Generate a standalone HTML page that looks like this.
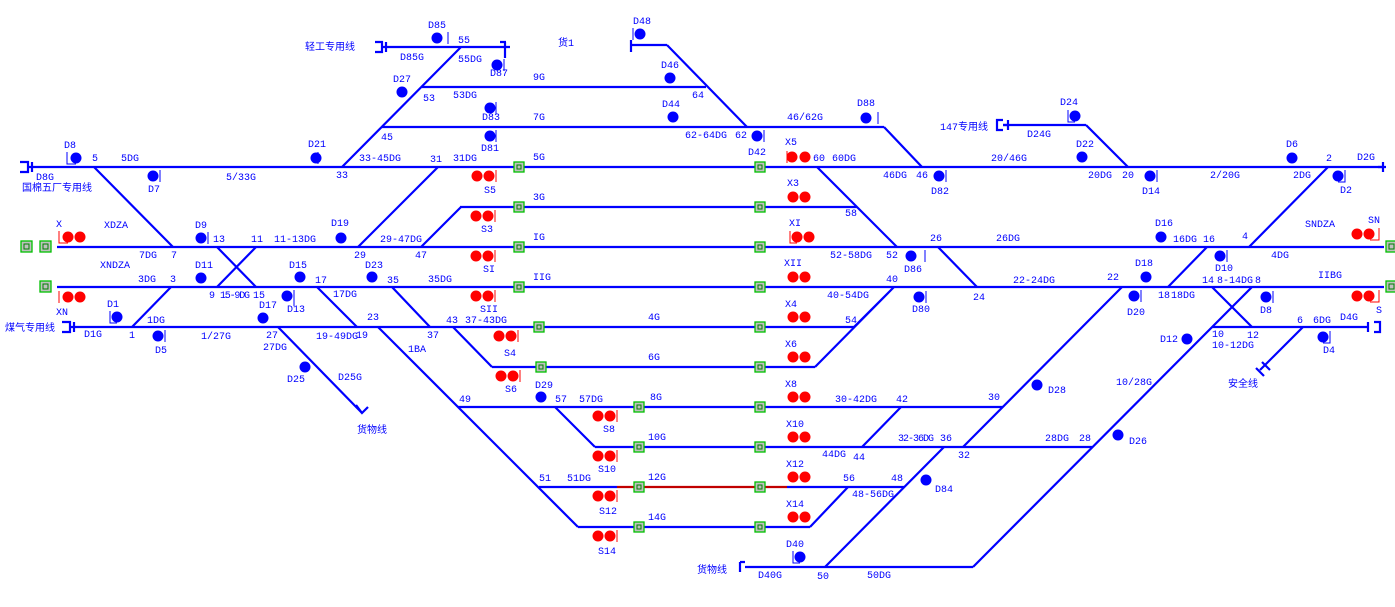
<!DOCTYPE html>
<html><head><meta charset="utf-8"><style>
html,body{margin:0;padding:0;background:#fff;}
svg{display:block;}
text{font-family:"Liberation Mono","Noto Sans CJK SC",monospace;font-size:10px;fill:#0000ff;}
.t{stroke:#0000ff;stroke-width:2.2;fill:none;}
.b{fill:#0000ff;}
.r{fill:#ff0000;}
.g{fill:#c0c0c0;stroke:#00c000;stroke-width:1.3;}
</style></head><body>
<svg width="1395" height="607" viewBox="0 0 1395 607" xmlns="http://www.w3.org/2000/svg">
<g class="t">
<path d="M35 167H1383M390 47H510M422 87H706M382 127H884M631 45H667M460 207H857M57 247H1384M57 287H1384M75 327H854M1212 327H1368M492 367H815M458 407H1003M595 447H1092M539 487H617M787 487H904M578 527H810M745 567H973M1003 125H1086"/>
<path d="M20 162H28V172H20M28 167H35M32 162V172M375 42H382V52H375M382 47H390M386 42V52M505 42V58M500 42H506M631 40V52M1003 120H997V130H1003M1003 125H1008M1008 120V130M1383 162V172M1378 167H1386M62 322H70V332H62M70 327H75M74 322V332M1368 322V332M1374 322H1380V332H1374M740 562V572M745 562H740"/>
<path d="M461 47L342 167M667 45L747 127M884 127L922 167M1086 125L1128 167M438 167L358 247M421 247L461 207M817 167L897 247M94 167L173 247M132 327L171 287M217 247L256 287M256 247L217 287M938 247L977 287M1328 167L1249 247M1207 247L1168 287M1122 287L963 447M944 447L825 567M1252 287L973 567M1212 287L1252 327M901 407L862 447M848 487L810 527M854 327L894 287L815 367M317 287L357 327M392 287L430 327M453 327L492 367M378 327L578 527M555 407L595 447M278 327L362 413M1303 327L1260 370"/>
<path d="M356 405L362 413L368 407M1262 362L1270 370M1256 368L1264 376"/>
</g>
<path d="M617 487H787" stroke="#c00000" stroke-width="2.2"/>
<g class="g">
<rect x="514" y="162" width="10" height="10"/><rect x="755" y="162" width="10" height="10"/>
<rect x="514" y="202" width="10" height="10"/><rect x="755" y="202" width="10" height="10"/>
<rect x="514" y="242" width="10" height="10"/><rect x="755" y="242" width="10" height="10"/>
<rect x="514" y="282" width="10" height="10"/><rect x="755" y="282" width="10" height="10"/>
<rect x="534" y="322" width="10" height="10"/><rect x="755" y="322" width="10" height="10"/>
<rect x="536" y="362" width="10" height="10"/><rect x="755" y="362" width="10" height="10"/>
<rect x="634" y="402" width="10" height="10"/><rect x="755" y="402" width="10" height="10"/>
<rect x="634" y="442" width="10" height="10"/><rect x="755" y="442" width="10" height="10"/>
<rect x="634" y="482" width="10" height="10"/><rect x="755" y="482" width="10" height="10"/>
<rect x="634" y="522" width="10" height="10"/><rect x="755" y="522" width="10" height="10"/>
<rect x="21" y="241" width="11" height="11"/><rect x="40" y="241" width="11" height="11"/>
<rect x="40" y="281" width="11" height="11"/>
<rect x="1386" y="241" width="11" height="11"/><rect x="1386" y="281" width="11" height="11"/>
</g>
<g fill="none" stroke="#008000" stroke-width="1">
<rect x="517" y="165" width="4" height="4"/><rect x="758" y="165" width="4" height="4"/><rect x="517" y="205" width="4" height="4"/><rect x="758" y="205" width="4" height="4"/><rect x="517" y="245" width="4" height="4"/><rect x="758" y="245" width="4" height="4"/><rect x="517" y="285" width="4" height="4"/><rect x="758" y="285" width="4" height="4"/><rect x="537" y="325" width="4" height="4"/><rect x="758" y="325" width="4" height="4"/><rect x="539" y="365" width="4" height="4"/><rect x="758" y="365" width="4" height="4"/><rect x="637" y="405" width="4" height="4"/><rect x="758" y="405" width="4" height="4"/><rect x="637" y="445" width="4" height="4"/><rect x="758" y="445" width="4" height="4"/><rect x="637" y="485" width="4" height="4"/><rect x="758" y="485" width="4" height="4"/><rect x="637" y="525" width="4" height="4"/><rect x="758" y="525" width="4" height="4"/>
<rect x="24" y="244" width="5" height="5"/><rect x="43" y="244" width="5" height="5"/><rect x="43" y="284" width="5" height="5"/><rect x="1389" y="244" width="5" height="5"/><rect x="1389" y="284" width="5" height="5"/>
</g>
<g class="b">
<circle cx="437" cy="38" r="5.5"/><circle cx="497" cy="65" r="5.5"/><circle cx="640" cy="34" r="5.5"/><circle cx="670" cy="78" r="5.5"/><circle cx="402" cy="92" r="5.5"/><circle cx="490" cy="108" r="5.5"/><circle cx="673" cy="117" r="5.5"/><circle cx="866" cy="118" r="5.5"/><circle cx="490" cy="136" r="5.5"/><circle cx="757" cy="136" r="5.5"/><circle cx="316" cy="158" r="5.5"/><circle cx="76" cy="158" r="5.5"/><circle cx="153" cy="176" r="5.5"/><circle cx="939" cy="176" r="5.5"/><circle cx="1075" cy="116" r="5.5"/><circle cx="1082" cy="157" r="5.5"/><circle cx="1150" cy="176" r="5.5"/><circle cx="1292" cy="158" r="5.5"/><circle cx="1338" cy="176" r="5.5"/>
<circle cx="201" cy="238" r="5.5"/><circle cx="341" cy="238" r="5.5"/><circle cx="911" cy="256" r="5.5"/><circle cx="1161" cy="237" r="5.5"/><circle cx="1220" cy="256" r="5.5"/><circle cx="201" cy="278" r="5.5"/><circle cx="300" cy="277" r="5.5"/><circle cx="372" cy="277" r="5.5"/><circle cx="919" cy="297" r="5.5"/><circle cx="1146" cy="277" r="5.5"/><circle cx="1134" cy="296" r="5.5"/><circle cx="1266" cy="297" r="5.5"/><circle cx="117" cy="317" r="5.5"/><circle cx="158" cy="336" r="5.5"/><circle cx="263" cy="318" r="5.5"/><circle cx="287" cy="296" r="5.5"/><circle cx="1187" cy="339" r="5.5"/><circle cx="1323" cy="337" r="5.5"/><circle cx="305" cy="367" r="5.5"/><circle cx="541" cy="397" r="5.5"/><circle cx="1037" cy="385" r="5.5"/><circle cx="1118" cy="435" r="5.5"/><circle cx="926" cy="480" r="5.5"/><circle cx="800" cy="557" r="5.5"/>
</g>
<g class="r">
<circle cx="792" cy="157" r="5.5"/><circle cx="805" cy="157" r="5.5"/><circle cx="477" cy="176" r="5.5"/><circle cx="489" cy="176" r="5.5"/>
<circle cx="793" cy="197" r="5.5"/><circle cx="805" cy="197" r="5.5"/><circle cx="476" cy="216" r="5.5"/><circle cx="488" cy="216" r="5.5"/>
<circle cx="68" cy="237" r="5.5"/><circle cx="80" cy="237" r="5.5"/><circle cx="797" cy="237" r="5.5"/><circle cx="809" cy="237" r="5.5"/><circle cx="1357" cy="234" r="5.5"/><circle cx="1369" cy="234" r="5.5"/>
<circle cx="476" cy="256" r="5.5"/><circle cx="488" cy="256" r="5.5"/><circle cx="793" cy="277" r="5.5"/><circle cx="805" cy="277" r="5.5"/>
<circle cx="68" cy="297" r="5.5"/><circle cx="80" cy="297" r="5.5"/><circle cx="476" cy="296" r="5.5"/><circle cx="488" cy="296" r="5.5"/><circle cx="1357" cy="296" r="5.5"/><circle cx="1369" cy="296" r="5.5"/>
<circle cx="499" cy="336" r="5.5"/><circle cx="511" cy="336" r="5.5"/><circle cx="793" cy="317" r="5.5"/><circle cx="805" cy="317" r="5.5"/>
<circle cx="501" cy="376" r="5.5"/><circle cx="513" cy="376" r="5.5"/><circle cx="793" cy="357" r="5.5"/><circle cx="805" cy="357" r="5.5"/>
<circle cx="598" cy="416" r="5.5"/><circle cx="610" cy="416" r="5.5"/><circle cx="793" cy="397" r="5.5"/><circle cx="805" cy="397" r="5.5"/>
<circle cx="598" cy="456" r="5.5"/><circle cx="610" cy="456" r="5.5"/><circle cx="793" cy="437" r="5.5"/><circle cx="805" cy="437" r="5.5"/>
<circle cx="598" cy="496" r="5.5"/><circle cx="610" cy="496" r="5.5"/><circle cx="793" cy="477" r="5.5"/><circle cx="805" cy="477" r="5.5"/>
<circle cx="598" cy="536" r="5.5"/><circle cx="610" cy="536" r="5.5"/><circle cx="793" cy="517" r="5.5"/><circle cx="805" cy="517" r="5.5"/>
</g>
<g stroke="#ff0000" stroke-width="1" fill="none"><path d="M787 151V163M496 170V182M495 210V222M59 231V243H68M790 231V243H797M1379 228V240H1370M495 250V262M59 291V303M495 290V302M1379 290V302H1370M518 330V342M520 370V382M617 410V422M617 450V462M617 490V502M617 530V542"/></g>
<g stroke="#0000ff" stroke-width="1" fill="none"><path d="M67 152V164H76M160 170V182M448 32V44M504 59V71M633 28V40M496 102V114M496 130V142M764 130V142M946 170V182M1068 110V122H1075M1157 170V182M1345 170V182H1338M1227 250V262M926 291V303M1141 290V302M1273 291V303M110 311V323H117M165 330V342M294 290V306M1330 331V343H1323M793 551V563H800M878 112V124M318 152V164M208 232V244M925 250V262"/></g>
<text x="428" y="28">D85</text><text x="305" y="50">轻工专用线</text><text x="458" y="43">55</text><text x="400" y="60">D85G</text><text x="458" y="62">55DG</text><text x="490" y="76">D87</text>
<text x="558" y="46">货1</text><text x="633" y="24">D48</text><text x="661" y="68">D46</text><text x="393" y="82">D27</text><text x="533" y="80">9G</text><text x="692" y="98">64</text>
<text x="423" y="101">53</text><text x="453" y="98">53DG</text><text x="482" y="120">D83</text><text x="662" y="107">D44</text><text x="857" y="106">D88</text><text x="533" y="120">7G</text><text x="787" y="120">46/62G</text>
<text x="381" y="140">45</text><text x="481" y="151">D81</text><text x="685" y="138">62-64DG</text><text x="735" y="138">62</text><text x="748" y="155">D42</text><text x="785" y="145">X5</text>
<text x="308" y="147">D21</text><text x="64" y="148">D8</text><text x="92" y="161">5</text><text x="121" y="161">5DG</text><text x="36" y="180">D8G</text><text x="22" y="191">国棉五厂专用线</text><text x="148" y="192">D7</text><text x="226" y="180">5/33G</text>
<text x="359" y="161">33-45DG</text><text x="336" y="178">33</text><text x="430" y="162">31</text><text x="453" y="161">31DG</text><text x="533" y="160">5G</text><text x="484" y="193">S5</text>
<text x="813" y="161">60</text><text x="832" y="161">60DG</text><text x="883" y="178">46DG</text><text x="916" y="178">46</text><text x="931" y="194">D82</text>
<text x="940" y="130">147专用线</text><text x="1060" y="105">D24</text><text x="1027" y="137">D24G</text><text x="1076" y="147">D22</text><text x="991" y="161">20/46G</text><text x="1088" y="178">20DG</text><text x="1122" y="178">20</text><text x="1142" y="194">D14</text><text x="1210" y="178">2/20G</text><text x="1286" y="147">D6</text><text x="1326" y="161">2</text><text x="1357" y="160">D2G</text><text x="1293" y="178">2DG</text><text x="1340" y="193">D2</text>
<text x="56" y="227">X</text><text x="104" y="228">XDZA</text><text x="139" y="258">7DG</text><text x="171" y="258">7</text><text x="195" y="228">D9</text><text x="213" y="242">13</text><text x="251" y="242">11</text><text x="274" y="242">11-13DG</text><text x="331" y="226">D19</text><text x="380" y="242">29-47DG</text><text x="354" y="258">29</text><text x="415" y="258">47</text><text x="533" y="200">3G</text><text x="481" y="232">S3</text>
<text x="533" y="240">IG</text><text x="483" y="272">SI</text><text x="789" y="226">XI</text><text x="845" y="216">58</text><text x="787" y="186">X3</text><text x="830" y="258">52-58DG</text><text x="886" y="258">52</text><text x="904" y="272">D86</text>
<text x="930" y="241">26</text><text x="996" y="241">26DG</text><text x="1155" y="226">D16</text><text x="1173" y="242">16DG</text><text x="1203" y="242">16</text><text x="1242" y="239">4</text><text x="1305" y="227">SNDZA</text><text x="1368" y="223">SN</text><text x="1215" y="271">D10</text><text x="1271" y="258">4DG</text>
<text x="100" y="268">XNDZA</text><text x="138" y="282">3DG</text><text x="170" y="282">3</text><text x="195" y="268">D11</text><text x="289" y="268">D15</text><text x="315" y="283">17</text><text x="365" y="268">D23</text><text x="387" y="283">35</text><text x="428" y="282">35DG</text><text x="533" y="280">IIG</text><text x="480" y="312">SII</text><text x="784" y="266">XII</text><text x="886" y="282">40</text><text x="827" y="298">40-54DG</text><text x="912" y="312">D80</text>
<text x="1013" y="283">22-24DG</text><text x="1107" y="280">22</text><text x="1135" y="266">D18</text><text x="973" y="300">24</text><text x="1127" y="315">D20</text><text x="1158" y="298">18</text><text x="1171" y="298">18DG</text><text x="1202" y="283">14</text><text x="1217" y="283">8-14DG</text><text x="1255" y="283">8</text><text x="1318" y="278">IIBG</text><text x="1260" y="313">D8</text><text x="1376" y="313">S</text>
<text x="56" y="315">XN</text><text x="107" y="307">D1</text><text x="147" y="323">1DG</text><text x="129" y="338">1</text><text x="84" y="337">D1G</text><text x="5" y="331">煤气专用线</text><text x="155" y="353">D5</text><text x="201" y="339">1/27G</text><text x="259" y="308">D17</text><text x="266" y="338">27</text><text x="263" y="350">27DG</text><text x="209" y="298">9</text><text x="220" y="298" textLength="30">15-9DG</text><text x="253" y="298">15</text><text x="287" y="312">D13</text><text x="333" y="297">17DG</text><text x="316" y="339">19-49DG</text><text x="356" y="338">19</text><text x="367" y="320">23</text><text x="427" y="338">37</text><text x="446" y="323">43</text><text x="465" y="323">37-43DG</text><text x="648" y="320">4G</text><text x="504" y="356">S4</text><text x="785" y="307">X4</text><text x="845" y="323">54</text>
<text x="1160" y="342">D12</text><text x="1212" y="337">10</text><text x="1247" y="338">12</text><text x="1212" y="348">10-12DG</text><text x="1297" y="323">6</text><text x="1313" y="323">6DG</text><text x="1340" y="320">D4G</text><text x="1323" y="353">D4</text><text x="1228" y="387">安全线</text>
<text x="287" y="382">D25</text><text x="338" y="380">D25G</text><text x="357" y="433">货物线</text><text x="408" y="352">1BA</text><text x="648" y="360">6G</text><text x="505" y="392">S6</text><text x="785" y="347">X6</text>
<text x="535" y="388">D29</text><text x="459" y="402">49</text><text x="555" y="402">57</text><text x="579" y="402">57DG</text><text x="650" y="400">8G</text><text x="603" y="432">S8</text><text x="785" y="387">X8</text><text x="835" y="402">30-42DG</text><text x="896" y="402">42</text><text x="988" y="400">30</text><text x="1048" y="393">D28</text>
<text x="648" y="440">10G</text><text x="598" y="472">S10</text><text x="786" y="427">X10</text><text x="822" y="457">44DG</text><text x="853" y="460">44</text><text x="898" y="441" textLength="36">32-36DG</text><text x="940" y="441">36</text><text x="958" y="458">32</text><text x="1045" y="441">28DG</text><text x="1079" y="441">28</text><text x="1116" y="385">10/28G</text><text x="1129" y="444">D26</text>
<text x="539" y="481">51</text><text x="567" y="481">51DG</text><text x="648" y="480">12G</text><text x="599" y="514">S12</text><text x="786" y="467">X12</text><text x="843" y="481">56</text><text x="891" y="481">48</text><text x="852" y="497">48-56DG</text><text x="935" y="492">D84</text>
<text x="648" y="520">14G</text><text x="598" y="554">S14</text><text x="786" y="507">X14</text><text x="786" y="547">D40</text><text x="697" y="573">货物线</text><text x="758" y="578">D40G</text><text x="817" y="579">50</text><text x="867" y="578">50DG</text>
</svg>
</body></html>
